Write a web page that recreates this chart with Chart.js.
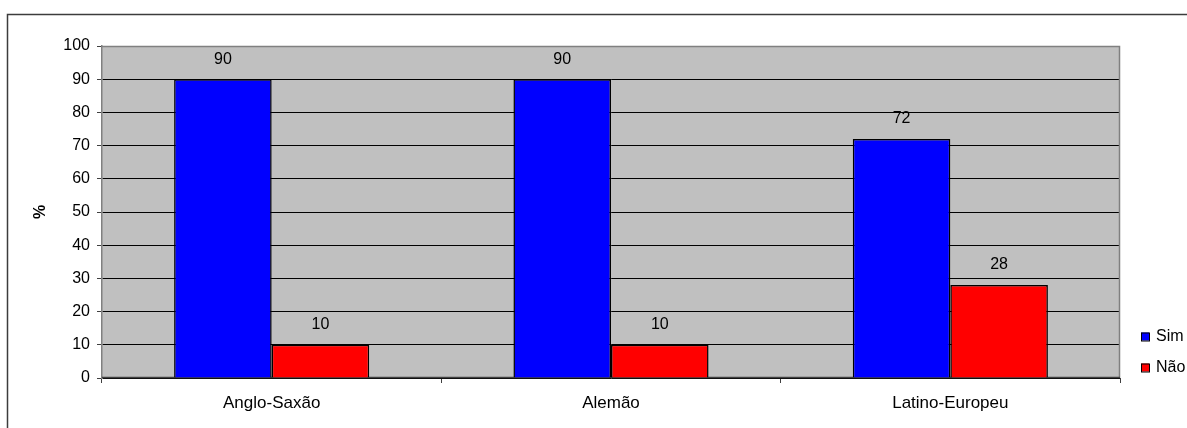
<!DOCTYPE html>
<html>
<head>
<meta charset="utf-8">
<script src="https://cdn.jsdelivr.net/npm/chart.js@4/dist/chart.umd.min.js"></script>
<style>
  html, body { margin: 0; padding: 0; background: #ffffff; }
  #wrap { width: 1187px; height: 428px; }
</style>
</head>
<body>
<div id="wrap"><canvas id="c" width="1187" height="428"></canvas></div>
<script>
// Survey results by cultural cluster (percent)
const categories = ['Anglo-Saxão', 'Alemão', 'Latino-Europeu'];
const simValues = [90, 90, 72];
const naoValues = [10, 10, 28];
const seriesNames = ['Sim', 'Não'];
const yTicks = [0, 10, 20, 30, 40, 50, 60, 70, 80, 90, 100];
const yAxisTitle = '%';

const FONT = 'Liberation Sans, Arial, sans-serif';

// Frame around the whole chart, gray plot background and plot border
const framePlugin = {
  id: 'frame',
  beforeDraw(chart) {
    const ctx = chart.ctx;
    const a = chart.chartArea;
    ctx.save();
    ctx.fillStyle = '#ffffff';
    ctx.fillRect(0, 0, chart.width, chart.height);
    ctx.strokeStyle = '#3c3c3c';
    ctx.lineWidth = 1.5;
    ctx.strokeRect(7.5, 14.5, chart.width + 20, chart.height + 20);
    ctx.fillStyle = '#c0c0c0';
    ctx.fillRect(a.left, a.top, a.right - a.left, a.bottom - a.top);
    ctx.restore();
  },
  beforeDatasetsDraw(chart) {
    const ctx = chart.ctx;
    const a = chart.chartArea;
    ctx.save();
    ctx.strokeStyle = '#808080';
    ctx.lineWidth = 1.5;
    ctx.beginPath();
    ctx.moveTo(a.left, a.top + 0.5);
    ctx.lineTo(a.right - 0.5, a.top + 0.5);
    ctx.lineTo(a.right - 0.5, a.bottom);
    ctx.stroke();
    ctx.strokeStyle = '#404040';
    ctx.beginPath();
    ctx.moveTo(a.left, a.bottom - 0.5);
    ctx.lineTo(a.right, a.bottom - 0.5);
    ctx.stroke();
    ctx.restore();
  }
};

// Value labels above each bar, and the rotated y-axis title
const valueLabelPlugin = {
  id: 'valueLabels',
  afterDatasetsDraw(chart) {
    const ctx = chart.ctx;
    ctx.save();
    ctx.font = '16px ' + FONT;
    ctx.fillStyle = '#000000';
    ctx.textAlign = 'center';
    ctx.textBaseline = 'middle';
    chart.data.datasets.forEach((ds, i) => {
      chart.getDatasetMeta(i).data.forEach((bar, j) => {
        ctx.fillText(String(ds.data[j]), bar.x, bar.y - 20);
      });
    });
    const a = chart.chartArea;
    ctx.translate(40.5, (a.top + a.bottom) / 2);
    ctx.rotate(-Math.PI / 2);
    ctx.font = 'bold 16px ' + FONT;
    ctx.fillText(yAxisTitle, 0, 0);
    ctx.restore();
  }
};

// Legend at the right of the plot
const sideLegendPlugin = {
  id: 'sideLegend',
  afterDraw(chart) {
    const ctx = chart.ctx;
    ctx.save();
    ctx.font = '16px ' + FONT;
    ctx.textBaseline = 'middle';
    ctx.textAlign = 'left';
    chart.data.datasets.forEach((ds, i) => {
      const cy = 336.5 + i * 31;
      ctx.fillStyle = ds.backgroundColor;
      ctx.fillRect(1141, cy - 4, 8, 8);
      ctx.strokeStyle = '#000000';
      ctx.lineWidth = 1;
      ctx.strokeRect(1141.5, cy - 3.5, 8, 8);
      ctx.fillStyle = '#000000';
      ctx.fillText(ds.label, 1156, cy);
    });
    ctx.restore();
  }
};

new Chart(document.getElementById('c'), {
  type: 'bar',
  data: {
    labels: categories,
    datasets: [
      { label: seriesNames[0], data: simValues, backgroundColor: '#0000ff', borderColor: '#000000', borderWidth: 1.5 },
      { label: seriesNames[1], data: naoValues, backgroundColor: '#ff0000', borderColor: '#000000', borderWidth: 1.5 }
    ]
  },
  options: {
    responsive: false,
    animation: false,
    events: [],
    layout: { padding: { left: 0, right: 67, top: 46, bottom: 0 } },
    datasets: { bar: { categoryPercentage: 0.575, barPercentage: 1.0 } },
    plugins: {
      legend: { display: false },
      tooltip: { enabled: false },
      title: { display: false }
    },
    scales: {
      x: {
        offset: true,
        grid: { display: true, drawOnChartArea: false, drawTicks: true, tickLength: 5, color: '#404040', offset: true },
        border: { display: false },
        ticks: { color: '#000000', font: { family: FONT, size: 17 }, padding: 10, maxRotation: 0 },
        afterFit(scale) { scale.height = 50; }
      },
      y: {
        min: 0,
        max: 100,
        afterBuildTicks(scale) { scale.ticks = yTicks.map(v => ({ value: v })); },
        grid: { color: '#000000', lineWidth: 1, drawTicks: true, tickLength: 5, tickColor: '#404040' },
        border: { display: true, color: '#808080', width: 1.5 },
        ticks: { color: '#000000', font: { family: FONT, size: 16 }, padding: 7 },
        afterFit(scale) { scale.width = 102; }
      }
    }
  },
  plugins: [framePlugin, valueLabelPlugin, sideLegendPlugin]
});
</script>
</body>
</html>
